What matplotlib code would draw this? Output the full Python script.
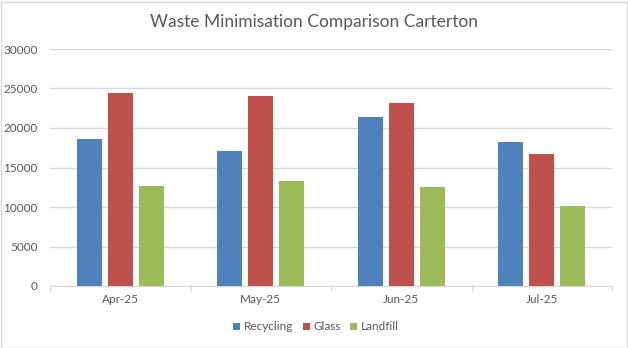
import numpy as np
import matplotlib
matplotlib.use("Agg")
from matplotlib import pyplot as plt
from matplotlib.patches import Rectangle

months = ["Apr-25", "May-25", "Jun-25", "Jul-25"]
series_names = ["Recycling", "Glass", "Landfill"]
recycling = [18600, 17130, 21430, 18270]
glass = [24450, 24090, 23200, 16750]
landfill = [12700, 13330, 12570, 10160]
colors = ["#4f81bd", "#c0504d", "#9bbb59"]

plt.rcParams['font.family'] = ['Lato', 'DejaVu Sans']
text_gray = "#595959"
grid_gray = "#d9d9d9"

fig = plt.figure(figsize=(6.28, 3.48), dpi=100)
ax = fig.add_axes([50 / 628, 1 - 286 / 348, 562 / 628, 237 / 348])

x = np.arange(len(months))
width = 0.178
pitch = 0.22
for i, (vals, name) in enumerate(zip([recycling, glass, landfill], series_names)):
    ax.bar(x + (i - 1) * pitch, vals, width, color=colors[i], label=name, zorder=3)

ax.set_xlim(-0.5, len(months) - 0.5)
ax.set_ylim(0, 30000)
ax.set_yticks(np.arange(0, 30001, 5000))
ax.set_xticks(x)
ax.set_xticklabels(months)
ax.yaxis.grid(True, color=grid_gray, linewidth=1, zorder=0)
for s in ["top", "right", "left"]:
    ax.spines[s].set_visible(False)
ax.spines["bottom"].set_color(grid_gray)
ax.tick_params(axis="y", length=0, labelsize=8.5, colors=text_gray, pad=9)
ax.tick_params(axis="x", length=0, labelsize=8.5, colors=text_gray, pad=6)
# small tick marks between categories
for b in np.arange(-0.5, len(months), 1.0):
    ax.plot([b, b], [0, -500], color=grid_gray, lw=1, clip_on=False)

fig.text(0.5, 1 - 22 / 348, "Waste Minimisation Comparison Carterton",
         ha="center", va="center", fontsize=12.5, color=text_gray)

fig.legend(*ax.get_legend_handles_labels(), loc="center",
           bbox_to_anchor=(316 / 628, 1 - 327 / 348), ncol=3,
           frameon=False, fontsize=8.5, labelcolor=text_gray, handlelength=0.6,
           handleheight=0.6, handletextpad=0.3, columnspacing=0.8)

fig.patches.append(Rectangle((0.5 / 628, 0.5 / 348), 626 / 628, 346 / 348,
                             transform=fig.transFigure, fill=False,
                             edgecolor=grid_gray, lw=1))

fig.savefig("out.png", dpi=100)
